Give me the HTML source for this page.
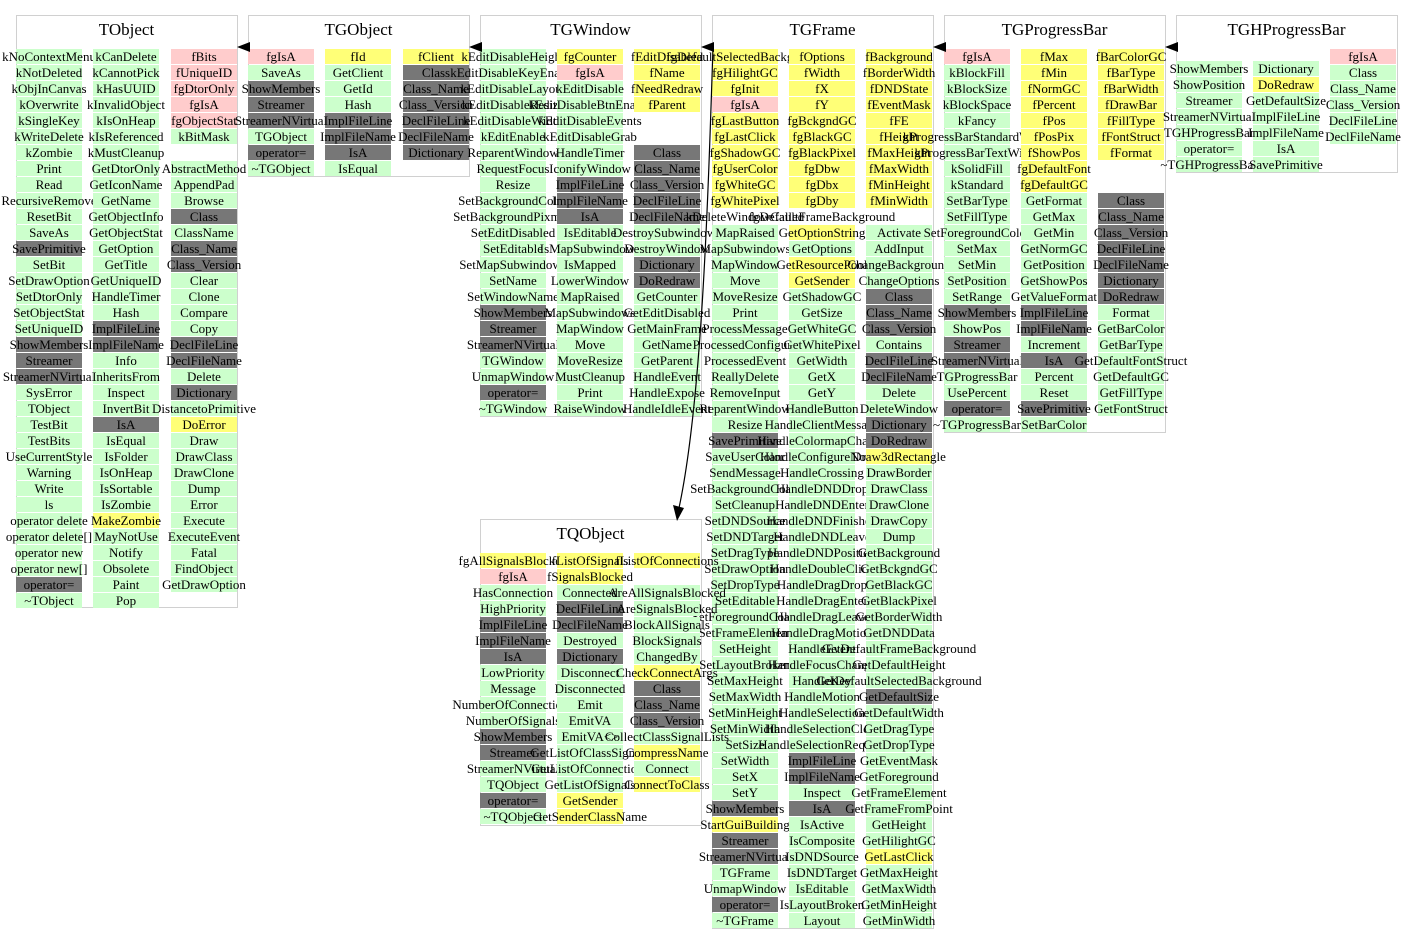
<!DOCTYPE html>
<html><head><meta charset="utf-8"><style>
body{margin:0;width:1413px;height:944px;background:#fff;position:relative;overflow:hidden;font-family:"Liberation Serif",serif;}
.b{position:absolute;border:1.5px solid #d0d0d0;box-sizing:border-box;}
.t{position:absolute;font-size:17px;text-align:center;width:221px;}
.c{position:absolute;width:66px;}
.c i{font-style:normal;display:flex;justify-content:center;align-items:center;height:15px;margin-bottom:1px;font-size:13px;white-space:nowrap;line-height:15px;}
.g{background:#ccffcc}.p{background:#ffcccc}.y{background:#ffff77}.d{background:#777}.n{background:transparent}
svg{position:absolute;left:0;top:0}
</style></head><body>

<div class="b" style="left:16px;top:15px;width:222px;height:593px"></div><div class="t" style="left:16px;top:20px">TObject</div>
<div class="b" style="left:248px;top:15px;width:222px;height:162px"></div><div class="t" style="left:248px;top:20px">TGObject</div>
<div class="b" style="left:480px;top:15px;width:222px;height:402px"></div><div class="t" style="left:480px;top:20px">TGWindow</div>
<div class="b" style="left:712px;top:15px;width:222px;height:914px"></div><div class="t" style="left:712px;top:20px">TGFrame</div>
<div class="b" style="left:944px;top:15px;width:222px;height:418px"></div><div class="t" style="left:944px;top:20px">TGProgressBar</div>
<div class="b" style="left:1176px;top:15px;width:222px;height:158px"></div><div class="t" style="left:1176px;top:20px">TGHProgressBar</div>
<div class="b" style="left:480px;top:519px;width:222px;height:307px"></div><div class="t" style="left:480px;top:524px">TQObject</div>

<!-- TObject -->
<div class="c" style="left:16px;top:49px"><i class=g>kNoContextMenu</i><i class=g>kNotDeleted</i><i class=g>kObjInCanvas</i><i class=g>kOverwrite</i><i class=g>kSingleKey</i><i class=g>kWriteDelete</i><i class=g>kZombie</i><i class=g>Print</i><i class=g>Read</i><i class=g>RecursiveRemove</i><i class=g>ResetBit</i><i class=g>SaveAs</i><i class=d>SavePrimitive</i><i class=g>SetBit</i><i class=g>SetDrawOption</i><i class=g>SetDtorOnly</i><i class=g>SetObjectStat</i><i class=g>SetUniqueID</i><i class=d>ShowMembers</i><i class=d>Streamer</i><i class=d>StreamerNVirtual</i><i class=g>SysError</i><i class=g>TObject</i><i class=g>TestBit</i><i class=g>TestBits</i><i class=g>UseCurrentStyle</i><i class=g>Warning</i><i class=g>Write</i><i class=g>ls</i><i class=g>operator delete</i><i class=g>operator delete[]</i><i class=g>operator new</i><i class=g>operator new[]</i><i class=d>operator=</i><i class=g>~TObject</i></div>
<div class="c" style="left:93px;top:49px"><i class=g>kCanDelete</i><i class=g>kCannotPick</i><i class=g>kHasUUID</i><i class=g>kInvalidObject</i><i class=g>kIsOnHeap</i><i class=g>kIsReferenced</i><i class=g>kMustCleanup</i><i class=g>GetDtorOnly</i><i class=g>GetIconName</i><i class=g>GetName</i><i class=g>GetObjectInfo</i><i class=g>GetObjectStat</i><i class=g>GetOption</i><i class=g>GetTitle</i><i class=g>GetUniqueID</i><i class=g>HandleTimer</i><i class=g>Hash</i><i class=d>ImplFileLine</i><i class=d>ImplFileName</i><i class=g>Info</i><i class=g>InheritsFrom</i><i class=g>Inspect</i><i class=g>InvertBit</i><i class=d>IsA</i><i class=g>IsEqual</i><i class=g>IsFolder</i><i class=g>IsOnHeap</i><i class=g>IsSortable</i><i class=g>IsZombie</i><i class=y>MakeZombie</i><i class=g>MayNotUse</i><i class=g>Notify</i><i class=g>Obsolete</i><i class=g>Paint</i><i class=g>Pop</i></div>
<div class="c" style="left:171px;top:49px"><i class=p>fBits</i><i class=p>fUniqueID</i><i class=p>fgDtorOnly</i><i class=p>fgIsA</i><i class=p>fgObjectStat</i><i class=g>kBitMask</i><i class=n></i><i class=g>AbstractMethod</i><i class=g>AppendPad</i><i class=g>Browse</i><i class=d>Class</i><i class=g>ClassName</i><i class=d>Class_Name</i><i class=d>Class_Version</i><i class=g>Clear</i><i class=g>Clone</i><i class=g>Compare</i><i class=g>Copy</i><i class=d>DeclFileLine</i><i class=d>DeclFileName</i><i class=g>Delete</i><i class=d>Dictionary</i><i class=g>DistancetoPrimitive</i><i class=y>DoError</i><i class=g>Draw</i><i class=g>DrawClass</i><i class=g>DrawClone</i><i class=g>Dump</i><i class=g>Error</i><i class=g>Execute</i><i class=g>ExecuteEvent</i><i class=g>Fatal</i><i class=g>FindObject</i><i class=g>GetDrawOption</i></div>

<!-- TGObject -->
<div class="c" style="left:248px;top:49px"><i class=p>fgIsA</i><i class=g>SaveAs</i><i class=d>ShowMembers</i><i class=d>Streamer</i><i class=d>StreamerNVirtual</i><i class=g>TGObject</i><i class=d>operator=</i><i class=g>~TGObject</i></div>
<div class="c" style="left:325px;top:49px"><i class=y>fId</i><i class=g>GetClient</i><i class=g>GetId</i><i class=g>Hash</i><i class=d>ImplFileLine</i><i class=d>ImplFileName</i><i class=d>IsA</i><i class=g>IsEqual</i></div>
<div class="c" style="left:403px;top:49px"><i class=y>fClient</i><i class=d>Class</i><i class=d>Class_Name</i><i class=d>Class_Version</i><i class=d>DeclFileLine</i><i class=d>DeclFileName</i><i class=d>Dictionary</i></div>

<!-- TGWindow -->
<div class="c" style="left:480px;top:49px"><i class=g>kEditDisableHeight</i><i class=g>kEditDisableKeyEnable</i><i class=g>kEditDisableLayout</i><i class=g>kEditDisableResize</i><i class=g>kEditDisableWidth</i><i class=g>kEditEnable</i><i class=g>ReparentWindow</i><i class=g>RequestFocus</i><i class=g>Resize</i><i class=g>SetBackgroundColor</i><i class=g>SetBackgroundPixmap</i><i class=g>SetEditDisabled</i><i class=g>SetEditable</i><i class=g>SetMapSubwindows</i><i class=g>SetName</i><i class=g>SetWindowName</i><i class=d>ShowMembers</i><i class=d>Streamer</i><i class=d>StreamerNVirtual</i><i class=g>TGWindow</i><i class=g>UnmapWindow</i><i class=d>operator=</i><i class=g>~TGWindow</i></div>
<div class="c" style="left:557px;top:49px"><i class=y>fgCounter</i><i class=p>fgIsA</i><i class=g>kEditDisable</i><i class=g>kEditDisableBtnEnable</i><i class=g>kEditDisableEvents</i><i class=g>kEditDisableGrab</i><i class=g>HandleTimer</i><i class=g>IconifyWindow</i><i class=d>ImplFileLine</i><i class=d>ImplFileName</i><i class=d>IsA</i><i class=g>IsEditable</i><i class=g>IsMapSubwindows</i><i class=g>IsMapped</i><i class=g>LowerWindow</i><i class=g>MapRaised</i><i class=g>MapSubwindows</i><i class=g>MapWindow</i><i class=g>Move</i><i class=g>MoveResize</i><i class=g>MustCleanup</i><i class=g>Print</i><i class=g>RaiseWindow</i></div>
<div class="c" style="left:634px;top:49px"><i class=y>fEditDisabled</i><i class=y>fName</i><i class=y>fNeedRedraw</i><i class=y>fParent</i><i class=n></i><i class=n></i><i class=d>Class</i><i class=d>Class_Name</i><i class=d>Class_Version</i><i class=d>DeclFileLine</i><i class=d>DeclFileName</i><i class=g>DestroySubwindows</i><i class=g>DestroyWindow</i><i class=d>Dictionary</i><i class=d>DoRedraw</i><i class=g>GetCounter</i><i class=g>GetEditDisabled</i><i class=g>GetMainFrame</i><i class=g>GetName</i><i class=g>GetParent</i><i class=g>HandleEvent</i><i class=g>HandleExpose</i><i class=g>HandleIdleEvent</i></div>

<!-- TGFrame -->
<div class="c" style="left:712px;top:49px"><i class=y>fgDefaultSelectedBackground</i><i class=y>fgHilightGC</i><i class=y>fgInit</i><i class=p>fgIsA</i><i class=y>fgLastButton</i><i class=y>fgLastClick</i><i class=y>fgShadowGC</i><i class=y>fgUserColor</i><i class=y>fgWhiteGC</i><i class=y>fgWhitePixel</i><i class=n>kDeleteWindowCalled</i><i class=g>MapRaised</i><i class=g>MapSubwindows</i><i class=g>MapWindow</i><i class=g>Move</i><i class=g>MoveResize</i><i class=g>Print</i><i class=g>ProcessMessage</i><i class=g>ProcessedConfigure</i><i class=g>ProcessedEvent</i><i class=g>ReallyDelete</i><i class=g>RemoveInput</i><i class=g>ReparentWindow</i><i class=g>Resize</i><i class=d>SavePrimitive</i><i class=g>SaveUserColor</i><i class=g>SendMessage</i><i class=g>SetBackgroundColor</i><i class=g>SetCleanup</i><i class=g>SetDNDSource</i><i class=g>SetDNDTarget</i><i class=g>SetDragType</i><i class=g>SetDrawOption</i><i class=g>SetDropType</i><i class=g>SetEditable</i><i class=g>SetForegroundColor</i><i class=g>SetFrameElement</i><i class=g>SetHeight</i><i class=g>SetLayoutBroken</i><i class=g>SetMaxHeight</i><i class=g>SetMaxWidth</i><i class=g>SetMinHeight</i><i class=g>SetMinWidth</i><i class=g>SetSize</i><i class=g>SetWidth</i><i class=g>SetX</i><i class=g>SetY</i><i class=d>ShowMembers</i><i class=y>StartGuiBuilding</i><i class=d>Streamer</i><i class=d>StreamerNVirtual</i><i class=g>TGFrame</i><i class=g>UnmapWindow</i><i class=d>operator=</i><i class=g>~TGFrame</i></div>
<div class="c" style="left:789px;top:49px"><i class=y>fOptions</i><i class=y>fWidth</i><i class=y>fX</i><i class=y>fY</i><i class=y>fgBckgndGC</i><i class=y>fgBlackGC</i><i class=y>fgBlackPixel</i><i class=y>fgDbw</i><i class=y>fgDbx</i><i class=y>fgDby</i><i class=n>fgDefaultFrameBackground</i><i class=y>GetOptionString</i><i class=g>GetOptions</i><i class=y>GetResourcePool</i><i class=y>GetSender</i><i class=g>GetShadowGC</i><i class=g>GetSize</i><i class=g>GetWhiteGC</i><i class=g>GetWhitePixel</i><i class=g>GetWidth</i><i class=g>GetX</i><i class=g>GetY</i><i class=g>HandleButton</i><i class=g>HandleClientMessage</i><i class=g>HandleColormapChange</i><i class=g>HandleConfigureNotify</i><i class=g>HandleCrossing</i><i class=g>HandleDNDDrop</i><i class=g>HandleDNDEnter</i><i class=g>HandleDNDFinished</i><i class=g>HandleDNDLeave</i><i class=g>HandleDNDPosition</i><i class=g>HandleDoubleClick</i><i class=g>HandleDragDrop</i><i class=g>HandleDragEnter</i><i class=g>HandleDragLeave</i><i class=g>HandleDragMotion</i><i class=g>HandleEvent</i><i class=g>HandleFocusChange</i><i class=g>HandleKey</i><i class=g>HandleMotion</i><i class=g>HandleSelection</i><i class=g>HandleSelectionClear</i><i class=g>HandleSelectionRequest</i><i class=d>ImplFileLine</i><i class=d>ImplFileName</i><i class=g>Inspect</i><i class=d>IsA</i><i class=g>IsActive</i><i class=g>IsComposite</i><i class=g>IsDNDSource</i><i class=g>IsDNDTarget</i><i class=g>IsEditable</i><i class=g>IsLayoutBroken</i><i class=g>Layout</i></div>
<div class="c" style="left:866px;top:49px"><i class=y>fBackground</i><i class=y>fBorderWidth</i><i class=y>fDNDState</i><i class=y>fEventMask</i><i class=y>fFE</i><i class=y>fHeight</i><i class=y>fMaxHeight</i><i class=y>fMaxWidth</i><i class=y>fMinHeight</i><i class=y>fMinWidth</i><i class=n></i><i class=g>Activate</i><i class=g>AddInput</i><i class=g>ChangeBackground</i><i class=g>ChangeOptions</i><i class=d>Class</i><i class=d>Class_Name</i><i class=d>Class_Version</i><i class=g>Contains</i><i class=d>DeclFileLine</i><i class=d>DeclFileName</i><i class=g>Delete</i><i class=g>DeleteWindow</i><i class=d>Dictionary</i><i class=d>DoRedraw</i><i class=y>Draw3dRectangle</i><i class=g>DrawBorder</i><i class=g>DrawClass</i><i class=g>DrawClone</i><i class=g>DrawCopy</i><i class=g>Dump</i><i class=g>GetBackground</i><i class=g>GetBckgndGC</i><i class=g>GetBlackGC</i><i class=g>GetBlackPixel</i><i class=g>GetBorderWidth</i><i class=g>GetDNDData</i><i class=g>GetDefaultFrameBackground</i><i class=g>GetDefaultHeight</i><i class=g>GetDefaultSelectedBackground</i><i class=d>GetDefaultSize</i><i class=g>GetDefaultWidth</i><i class=g>GetDragType</i><i class=g>GetDropType</i><i class=g>GetEventMask</i><i class=g>GetForeground</i><i class=g>GetFrameElement</i><i class=g>GetFrameFromPoint</i><i class=g>GetHeight</i><i class=g>GetHilightGC</i><i class=y>GetLastClick</i><i class=g>GetMaxHeight</i><i class=g>GetMaxWidth</i><i class=g>GetMinHeight</i><i class=g>GetMinWidth</i></div>

<!-- TGProgressBar -->
<div class="c" style="left:944px;top:49px"><i class=p>fgIsA</i><i class=g>kBlockFill</i><i class=g>kBlockSize</i><i class=g>kBlockSpace</i><i class=g>kFancy</i><i class=g>kProgressBarStandardWidth</i><i class=g>kProgressBarTextWidth</i><i class=g>kSolidFill</i><i class=g>kStandard</i><i class=g>SetBarType</i><i class=g>SetFillType</i><i class=g>SetForegroundColor</i><i class=g>SetMax</i><i class=g>SetMin</i><i class=g>SetPosition</i><i class=g>SetRange</i><i class=d>ShowMembers</i><i class=g>ShowPos</i><i class=d>Streamer</i><i class=d>StreamerNVirtual</i><i class=g>TGProgressBar</i><i class=g>UsePercent</i><i class=d>operator=</i><i class=g>~TGProgressBar</i></div>
<div class="c" style="left:1021px;top:49px"><i class=y>fMax</i><i class=y>fMin</i><i class=y>fNormGC</i><i class=y>fPercent</i><i class=y>fPos</i><i class=y>fPosPix</i><i class=y>fShowPos</i><i class=y>fgDefaultFont</i><i class=y>fgDefaultGC</i><i class=g>GetFormat</i><i class=g>GetMax</i><i class=g>GetMin</i><i class=g>GetNormGC</i><i class=g>GetPosition</i><i class=g>GetShowPos</i><i class=g>GetValueFormat</i><i class=d>ImplFileLine</i><i class=d>ImplFileName</i><i class=g>Increment</i><i class=d>IsA</i><i class=g>Percent</i><i class=g>Reset</i><i class=d>SavePrimitive</i><i class=g>SetBarColor</i></div>
<div class="c" style="left:1098px;top:49px"><i class=y>fBarColorGC</i><i class=y>fBarType</i><i class=y>fBarWidth</i><i class=y>fDrawBar</i><i class=y>fFillType</i><i class=y>fFontStruct</i><i class=y>fFormat</i><i class=n></i><i class=n></i><i class=d>Class</i><i class=d>Class_Name</i><i class=d>Class_Version</i><i class=d>DeclFileLine</i><i class=d>DeclFileName</i><i class=d>Dictionary</i><i class=d>DoRedraw</i><i class=g>Format</i><i class=g>GetBarColor</i><i class=g>GetBarType</i><i class=g>GetDefaultFontStruct</i><i class=g>GetDefaultGC</i><i class=g>GetFillType</i><i class=g>GetFontStruct</i></div>

<!-- TGHProgressBar -->
<div class="c" style="left:1176px;top:61px"><i class=g>ShowMembers</i><i class=g>ShowPosition</i><i class=g>Streamer</i><i class=g>StreamerNVirtual</i><i class=g>TGHProgressBar</i><i class=g>operator=</i><i class=g>~TGHProgressBar</i></div>
<div class="c" style="left:1253px;top:61px"><i class=g>Dictionary</i><i class=y>DoRedraw</i><i class=g>GetDefaultSize</i><i class=g>ImplFileLine</i><i class=g>ImplFileName</i><i class=g>IsA</i><i class=g>SavePrimitive</i></div>
<div class="c" style="left:1330px;top:49px"><i class=p>fgIsA</i><i class=g>Class</i><i class=g>Class_Name</i><i class=g>Class_Version</i><i class=g>DeclFileLine</i><i class=g>DeclFileName</i></div>

<!-- TQObject -->
<div class="c" style="left:480px;top:553px"><i class=y>fgAllSignalsBlocked</i><i class=p>fgIsA</i><i class=g>HasConnection</i><i class=g>HighPriority</i><i class=d>ImplFileLine</i><i class=d>ImplFileName</i><i class=d>IsA</i><i class=g>LowPriority</i><i class=g>Message</i><i class=g>NumberOfConnections</i><i class=g>NumberOfSignals</i><i class=d>ShowMembers</i><i class=d>Streamer</i><i class=g>StreamerNVirtual</i><i class=g>TQObject</i><i class=d>operator=</i><i class=g>~TQObject</i></div>
<div class="c" style="left:557px;top:553px"><i class=y>fListOfSignals</i><i class=y>fSignalsBlocked</i><i class=g>Connected</i><i class=d>DeclFileLine</i><i class=d>DeclFileName</i><i class=g>Destroyed</i><i class=d>Dictionary</i><i class=g>Disconnect</i><i class=g>Disconnected</i><i class=g>Emit</i><i class=g>EmitVA</i><i class=g>EmitVA&lt;&gt;</i><i class=g>GetListOfClassSignals</i><i class=g>GetListOfConnections</i><i class=g>GetListOfSignals</i><i class=y>GetSender</i><i class=y>GetSenderClassName</i></div>
<div class="c" style="left:634px;top:553px"><i class=y>fListOfConnections</i><i class=n></i><i class=g>AreAllSignalsBlocked</i><i class=g>AreSignalsBlocked</i><i class=g>BlockAllSignals</i><i class=g>BlockSignals</i><i class=g>ChangedBy</i><i class=y>CheckConnectArgs</i><i class=d>Class</i><i class=d>Class_Name</i><i class=d>Class_Version</i><i class=g>CollectClassSignalLists</i><i class=y>CompressName</i><i class=g>Connect</i><i class=y>ConnectToClass</i></div>

<svg width="1413" height="944">
<g fill="#000">
<polygon points="237,47 250,42 250,52"/>
<polygon points="469,47 482,42 482,52"/>
<polygon points="701,47 714,42 714,52"/>
<polygon points="933,47 946,42 946,52"/>
<polygon points="1165,47 1178,42 1178,52"/>
<polygon points="677,521 673,505 684,508"/>
</g>
<path d="M713,47 C708,200 702,400 679,508" fill="none" stroke="#000" stroke-width="1.2"/>
</svg>
</body></html>
